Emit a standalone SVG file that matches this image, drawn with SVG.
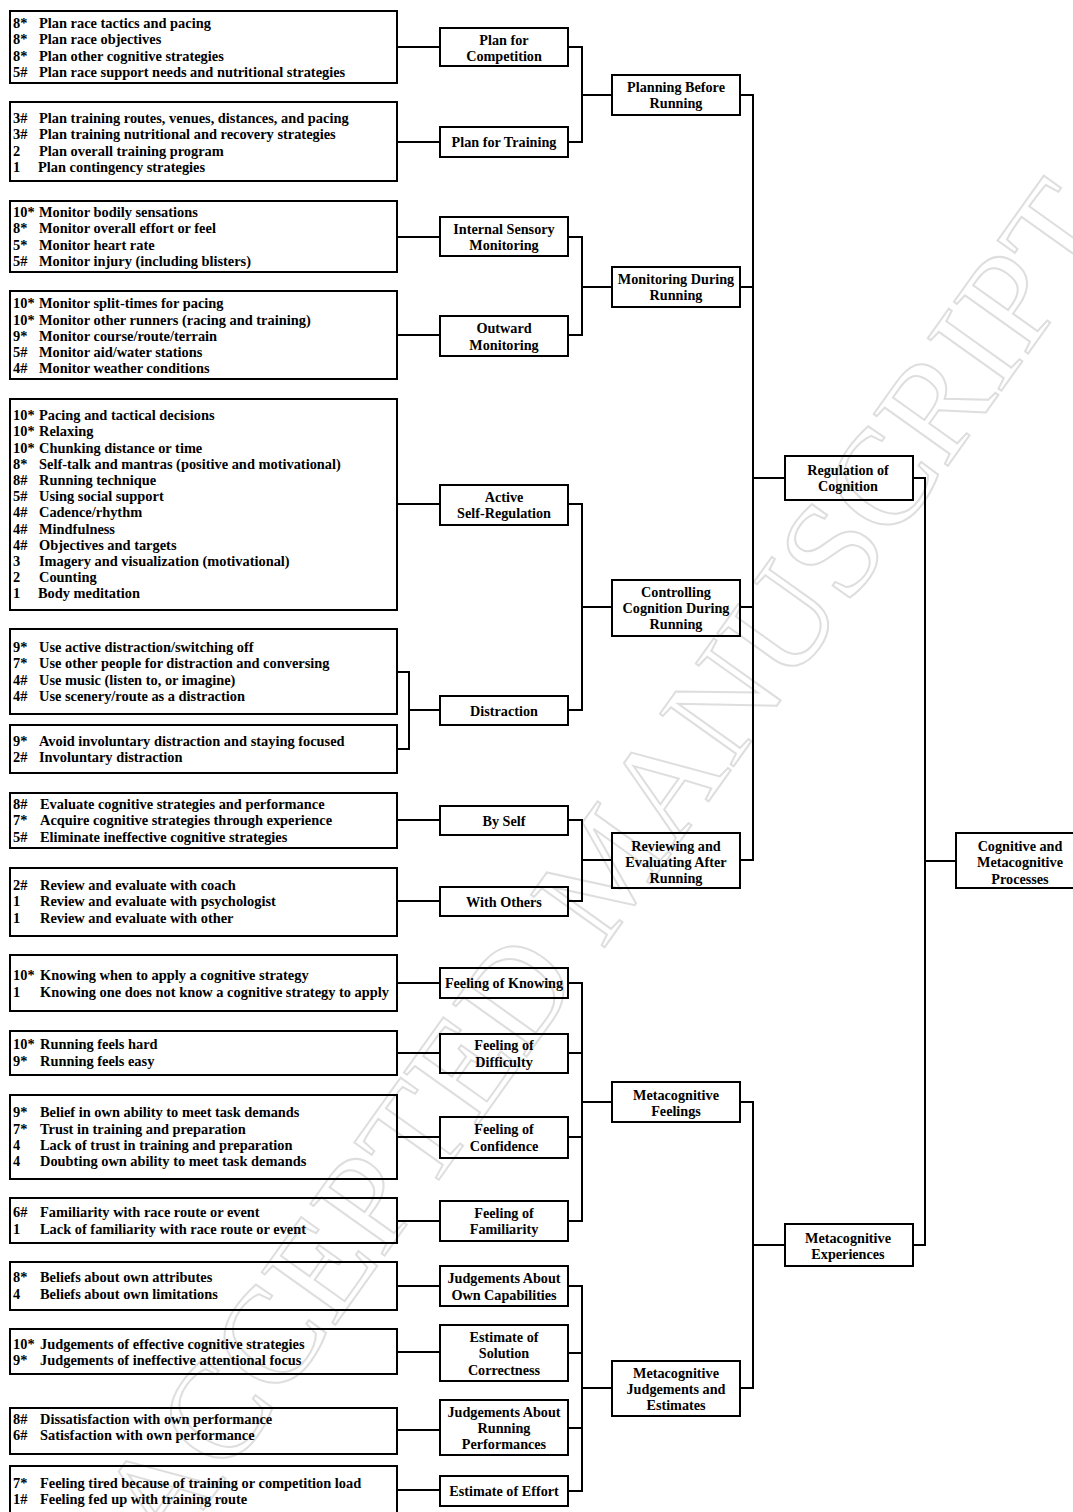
<svg xmlns="http://www.w3.org/2000/svg" width="1073" height="1512" viewBox="0 0 1073 1512">
<style>
.b{fill:none;stroke:#000;stroke-width:2}
.c{fill:none;stroke:#000;stroke-width:2}
.t{font-family:"Liberation Serif","Times New Roman",serif;font-weight:bold;font-size:14.4px;fill:#000}
.m{text-anchor:middle;font-size:14.2px}
.wm{font-family:"Liberation Serif","Times New Roman",serif;font-size:138px;fill:none;stroke:#dedede;stroke-width:2}
</style>
<rect x="0" y="0" width="1073" height="1512" fill="#fff"/>
<text class="wm" x="0" y="46" text-anchor="middle" transform="translate(606,866) rotate(-54.5)">ACCEPTED MANUSCRIPT</text>

<g id="connectors">
<path class="c" d="M397,47H440 M397,142H440 M397,237H440 M397,335H440 M397,504H440 M397,672H409 M397,749H409 M409,671V750 M409,710H440 M397,820H440 M397,901H440 M397,983H440 M397,1053H440 M397,1137H440 M397,1221H440 M397,1286H440 M397,1352H440 M397,1430H440 M397,1490H440"/>
<path class="c" d="M568,47H582V142H568 M582,95H612 M568,237H582V335H568 M582,287H612 M568,504H582V710H568 M582,607H612 M568,820H582V901H568 M582,860H612"/>
<path class="c" d="M568,983H582V1221H568 M568,1053H582 M568,1137H582 M582,1102H612 M568,1286H582V1491H568 M568,1353H582 M568,1428H582 M582,1388H612"/>
<path class="c" d="M740,95H753V860H740 M740,287H753 M740,607H753 M753,478H785 M740,1102H753V1388H740 M753,1245H785"/>
<path class="c" d="M913,478H925V1245H913 M925,861H956"/>
</g>

<g id="n-l1">
<rect class="b" x="10" y="11" width="387" height="72"/>
<text class="t" x="13" y="28">8*</text><text class="t" x="39" y="28">Plan race tactics and pacing</text>
<text class="t" x="13" y="44">8*</text><text class="t" x="39" y="44">Plan race objectives</text>
<text class="t" x="13" y="61">8*</text><text class="t" x="39" y="61">Plan other cognitive strategies</text>
<text class="t" x="13" y="77">5#</text><text class="t" x="39" y="77">Plan race support needs and nutritional strategies</text>
</g>
<g id="n-l2">
<rect class="b" x="10" y="102" width="387" height="79"/>
<text class="t" x="13" y="123">3#</text><text class="t" x="39" y="123">Plan training routes, venues, distances, and pacing</text>
<text class="t" x="13" y="139">3#</text><text class="t" x="39" y="139">Plan training nutritional and recovery strategies</text>
<text class="t" x="13" y="156">2</text><text class="t" x="39" y="156">Plan overall training program</text>
<text class="t" x="13" y="172">1</text><text class="t" x="38" y="172">Plan contingency strategies</text>
</g>
<g id="n-l3">
<rect class="b" x="10" y="201" width="387" height="71"/>
<text class="t" x="13" y="217">10*</text><text class="t" x="39" y="217">Monitor bodily sensations</text>
<text class="t" x="13" y="233">8*</text><text class="t" x="39" y="233">Monitor overall effort or feel</text>
<text class="t" x="13" y="250">5*</text><text class="t" x="39" y="250">Monitor heart rate</text>
<text class="t" x="13" y="266">5#</text><text class="t" x="39" y="266">Monitor injury (including blisters)</text>
</g>
<g id="n-l4">
<rect class="b" x="10" y="291" width="387" height="88"/>
<text class="t" x="13" y="308">10*</text><text class="t" x="39" y="308">Monitor split-times for pacing</text>
<text class="t" x="13" y="325">10*</text><text class="t" x="39" y="325">Monitor other runners (racing and training)</text>
<text class="t" x="13" y="341">9*</text><text class="t" x="39" y="341">Monitor course/route/terrain</text>
<text class="t" x="13" y="357">5#</text><text class="t" x="39" y="357">Monitor aid/water stations</text>
<text class="t" x="13" y="373">4#</text><text class="t" x="39" y="373">Monitor weather conditions</text>
</g>
<g id="n-l5">
<rect class="b" x="10" y="399" width="387" height="211"/>
<text class="t" x="13" y="420">10*</text><text class="t" x="39" y="420">Pacing and tactical decisions</text>
<text class="t" x="13" y="436">10*</text><text class="t" x="39" y="436">Relaxing</text>
<text class="t" x="13" y="453">10*</text><text class="t" x="39" y="453">Chunking distance or time</text>
<text class="t" x="13" y="469">8*</text><text class="t" x="39" y="469">Self-talk and mantras (positive and motivational)</text>
<text class="t" x="13" y="485">8#</text><text class="t" x="39" y="485">Running technique</text>
<text class="t" x="13" y="501">5#</text><text class="t" x="39" y="501">Using social support</text>
<text class="t" x="13" y="517">4#</text><text class="t" x="39" y="517">Cadence/rhythm</text>
<text class="t" x="13" y="534">4#</text><text class="t" x="39" y="534">Mindfulness</text>
<text class="t" x="13" y="550">4#</text><text class="t" x="39" y="550">Objectives and targets</text>
<text class="t" x="13" y="566">3</text><text class="t" x="39" y="566">Imagery and visualization (motivational)</text>
<text class="t" x="13" y="582">2</text><text class="t" x="39" y="582">Counting</text>
<text class="t" x="13" y="598">1</text><text class="t" x="38" y="598">Body meditation</text>
</g>
<g id="n-l6">
<rect class="b" x="10" y="629" width="387" height="85"/>
<text class="t" x="13" y="652">9*</text><text class="t" x="39" y="652">Use active distraction/switching off</text>
<text class="t" x="13" y="668">7*</text><text class="t" x="39" y="668">Use other people for distraction and conversing</text>
<text class="t" x="13" y="685">4#</text><text class="t" x="39" y="685">Use music (listen to, or imagine)</text>
<text class="t" x="13" y="701">4#</text><text class="t" x="39" y="701">Use scenery/route as a distraction</text>
</g>
<g id="n-l7">
<rect class="b" x="10" y="725" width="387" height="48"/>
<text class="t" x="13" y="746">9*</text><text class="t" x="39" y="746">Avoid involuntary distraction and staying focused</text>
<text class="t" x="13" y="762">2#</text><text class="t" x="39" y="762">Involuntary distraction</text>
</g>
<g id="n-l8">
<rect class="b" x="10" y="793" width="387" height="55"/>
<text class="t" x="13" y="809">8#</text><text class="t" x="40" y="809">Evaluate cognitive strategies and performance</text>
<text class="t" x="13" y="825">7*</text><text class="t" x="40" y="825">Acquire cognitive strategies through experience</text>
<text class="t" x="13" y="842">5#</text><text class="t" x="40" y="842">Eliminate ineffective cognitive strategies</text>
</g>
<g id="n-l9">
<rect class="b" x="10" y="868" width="387" height="68"/>
<text class="t" x="13" y="890">2#</text><text class="t" x="40" y="890">Review and evaluate with coach</text>
<text class="t" x="13" y="906">1</text><text class="t" x="40" y="906">Review and evaluate with psychologist</text>
<text class="t" x="13" y="923">1</text><text class="t" x="40" y="923">Review and evaluate with other</text>
</g>
<g id="n-l10">
<rect class="b" x="10" y="955" width="387" height="56"/>
<text class="t" x="13" y="980">10*</text><text class="t" x="40" y="980">Knowing when to apply a cognitive strategy</text>
<text class="t" x="13" y="997">1</text><text class="t" x="40" y="997">Knowing one does not know a cognitive strategy to apply</text>
</g>
<g id="n-l11">
<rect class="b" x="10" y="1031" width="387" height="44"/>
<text class="t" x="13" y="1049">10*</text><text class="t" x="40" y="1049">Running feels hard</text>
<text class="t" x="13" y="1066">9*</text><text class="t" x="40" y="1066">Running feels easy</text>
</g>
<g id="n-l12">
<rect class="b" x="10" y="1095" width="387" height="84"/>
<text class="t" x="13" y="1117">9*</text><text class="t" x="40" y="1117">Belief in own ability to meet task demands</text>
<text class="t" x="13" y="1134">7*</text><text class="t" x="40" y="1134">Trust in training and preparation</text>
<text class="t" x="13" y="1150">4</text><text class="t" x="40" y="1150">Lack of trust in training and preparation</text>
<text class="t" x="13" y="1166">4</text><text class="t" x="40" y="1166">Doubting own ability to meet task demands</text>
</g>
<g id="n-l13">
<rect class="b" x="10" y="1198" width="387" height="45"/>
<text class="t" x="13" y="1217">6#</text><text class="t" x="40" y="1217">Familiarity with race route or event</text>
<text class="t" x="13" y="1234">1</text><text class="t" x="40" y="1234">Lack of familiarity with race route or event</text>
</g>
<g id="n-l14">
<rect class="b" x="10" y="1262" width="387" height="48"/>
<text class="t" x="13" y="1282">8*</text><text class="t" x="40" y="1282">Beliefs about own attributes</text>
<text class="t" x="13" y="1299">4</text><text class="t" x="40" y="1299">Beliefs about own limitations</text>
</g>
<g id="n-l15">
<rect class="b" x="10" y="1329" width="387" height="45"/>
<text class="t" x="13" y="1349">10*</text><text class="t" x="40" y="1349">Judgements of effective cognitive strategies</text>
<text class="t" x="13" y="1365">9*</text><text class="t" x="40" y="1365">Judgements of ineffective  attentional focus</text>
</g>
<g id="n-l16">
<rect class="b" x="10" y="1408" width="387" height="46"/>
<text class="t" x="13" y="1424">8#</text><text class="t" x="40" y="1424">Dissatisfaction with own performance</text>
<text class="t" x="13" y="1440">6#</text><text class="t" x="40" y="1440">Satisfaction with own performance</text>
</g>
<g id="n-l17">
<rect class="b" x="10" y="1466" width="387" height="50"/>
<text class="t" x="13" y="1488">7*</text><text class="t" x="40" y="1488">Feeling tired because of training or competition load</text>
<text class="t" x="13" y="1504">1#</text><text class="t" x="40" y="1504">Feeling fed up with training route</text>
</g>

<g id="n-plan-competition"><rect class="b" x="440" y="28" width="128" height="38"/><text class="t m" x="504" y="45">Plan for</text><text class="t m" x="504" y="61">Competition</text></g>
<g id="n-plan-training"><rect class="b" x="440" y="127" width="128" height="30"/><text class="t m" x="504" y="147">Plan for Training</text></g>
<g id="n-internal"><rect class="b" x="440" y="217" width="128" height="39"/><text class="t m" x="504" y="234">Internal Sensory</text><text class="t m" x="504" y="250">Monitoring</text></g>
<g id="n-outward"><rect class="b" x="440" y="316" width="128" height="40"/><text class="t m" x="504" y="333">Outward</text><text class="t m" x="504" y="350">Monitoring</text></g>
<g id="n-active"><rect class="b" x="440" y="485" width="128" height="40"/><text class="t m" x="504" y="502">Active</text><text class="t m" x="504" y="518">Self-Regulation</text></g>
<g id="n-distraction"><rect class="b" x="440" y="696" width="128" height="29"/><text class="t m" x="504" y="716">Distraction</text></g>
<g id="n-byself"><rect class="b" x="440" y="806" width="128" height="29"/><text class="t m" x="504" y="826">By Self</text></g>
<g id="n-withothers"><rect class="b" x="440" y="887" width="128" height="29"/><text class="t m" x="504" y="907">With Others</text></g>
<g id="n-knowing"><rect class="b" x="440" y="968" width="128" height="30"/><text class="t m" x="504" y="988">Feeling of Knowing</text></g>
<g id="n-difficulty"><rect class="b" x="440" y="1034" width="128" height="39"/><text class="t m" x="504" y="1050">Feeling of</text><text class="t m" x="504" y="1067">Difficulty</text></g>
<g id="n-confidence"><rect class="b" x="440" y="1117" width="128" height="41"/><text class="t m" x="504" y="1134">Feeling of</text><text class="t m" x="504" y="1151">Confidence</text></g>
<g id="n-familiarity"><rect class="b" x="440" y="1201" width="128" height="40"/><text class="t m" x="504" y="1218">Feeling of</text><text class="t m" x="504" y="1234">Familiarity</text></g>
<g id="n-capabilities"><rect class="b" x="440" y="1266" width="128" height="40"/><text class="t m" x="504" y="1283">Judgements About</text><text class="t m" x="504" y="1300">Own Capabilities</text></g>
<g id="n-solution"><rect class="b" x="440" y="1325" width="128" height="56"/><text class="t m" x="504" y="1342">Estimate of</text><text class="t m" x="504" y="1358">Solution</text><text class="t m" x="504" y="1375">Correctness</text></g>
<g id="n-performances"><rect class="b" x="440" y="1400" width="128" height="55"/><text class="t m" x="504" y="1417">Judgements About</text><text class="t m" x="504" y="1433">Running</text><text class="t m" x="504" y="1449">Performances</text></g>
<g id="n-effort"><rect class="b" x="440" y="1476" width="128" height="30"/><text class="t m" x="504" y="1496">Estimate of Effort</text></g>

<g id="n-planning"><rect class="b" x="612" y="75" width="128" height="40"/><text class="t m" x="676" y="92">Planning Before</text><text class="t m" x="676" y="108">Running</text></g>
<g id="n-monitoring"><rect class="b" x="612" y="267" width="128" height="40"/><text class="t m" x="676" y="284">Monitoring During</text><text class="t m" x="676" y="300">Running</text></g>
<g id="n-controlling"><rect class="b" x="612" y="580" width="128" height="56"/><text class="t m" x="676" y="597">Controlling</text><text class="t m" x="676" y="613">Cognition During</text><text class="t m" x="676" y="629">Running</text></g>
<g id="n-reviewing"><rect class="b" x="612" y="833" width="128" height="55"/><text class="t m" x="676" y="851">Reviewing and</text><text class="t m" x="676" y="867">Evaluating After</text><text class="t m" x="676" y="883">Running</text></g>
<g id="n-feelings"><rect class="b" x="612" y="1082" width="128" height="40"/><text class="t m" x="676" y="1100">Metacognitive</text><text class="t m" x="676" y="1116">Feelings</text></g>
<g id="n-judgements"><rect class="b" x="612" y="1361" width="128" height="55"/><text class="t m" x="676" y="1378">Metacognitive</text><text class="t m" x="676" y="1394">Judgements and</text><text class="t m" x="676" y="1410">Estimates</text></g>

<g id="n-regulation"><rect class="b" x="785" y="456" width="128" height="44"/><text class="t m" x="848" y="475">Regulation of</text><text class="t m" x="848" y="491">Cognition</text></g>
<g id="n-experiences"><rect class="b" x="785" y="1224" width="128" height="42"/><text class="t m" x="848" y="1243">Metacognitive</text><text class="t m" x="848" y="1259">Experiences</text></g>

<g id="n-root"><rect class="b" x="956" y="833" width="130" height="55"/><text class="t m" x="1020" y="851">Cognitive and</text><text class="t m" x="1020" y="867">Metacognitive</text><text class="t m" x="1020" y="884">Processes</text></g>
</svg>
